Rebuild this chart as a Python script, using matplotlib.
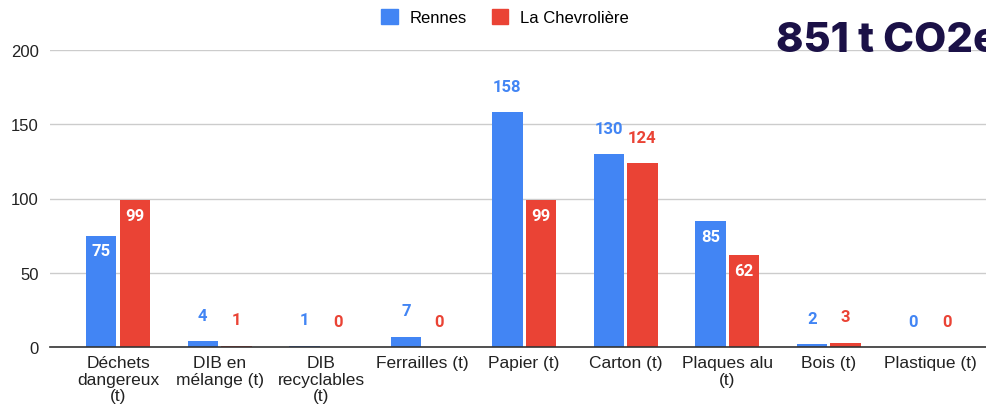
import matplotlib
matplotlib.use("Agg")
import matplotlib.pyplot as plt
import numpy as np
from matplotlib.patches import Patch

categories = ["Déchets\ndangereux\n(t)", "DIB en\nmélange (t)", "DIB\nrecyclables\n(t)",
              "Ferrailles (t)", "Papier (t)", "Carton (t)", "Plaques alu\n(t)", "Bois (t)", "Plastique (t)"]
rennes = [75, 4, 1, 7, 158, 130, 85, 2, 0]
chevroliere = [99, 1, 0, 0, 99, 124, 62, 3, 0]
rennes_inside = [True, False, False, False, False, False, True, False, False]
chev_inside = [True, False, False, False, True, False, True, False, False]
series_names = ["Rennes", "La Chevrolière"]
yticks = [0, 50, 100, 150, 200]
title_text = "851 t CO2e"

BLUE = "#4285F4"
RED = "#EA4335"

W, H = 987, 410
fig = plt.figure(figsize=(W / 100, H / 100), dpi=100)
ax = fig.add_axes([50 / W, (H - 348) / H, (W - 50) / W, 297 / H])

x = np.arange(len(categories))
bw = 0.30
off = 0.165
b1 = ax.bar(x - off, rennes, bw, color=BLUE, zorder=3)
b2 = ax.bar(x + off, chevroliere, bw, color=RED, zorder=3)

ax.set_ylim(0, 200)
ax.set_xlim(-0.67, 8.56)
ax.set_yticks(yticks)
ax.set_yticklabels([str(v) for v in yticks], fontsize=12, color="#222222", family="Liberation Sans")
ax.tick_params(axis="y", length=0, pad=8)
ax.tick_params(axis="x", length=0, pad=6)
ax.set_xticks(x)
ax.set_xticklabels(categories, fontsize=12.5, color="#222222", family="Liberation Sans", linespacing=1.1)
ax.grid(axis="y", color="#cccccc", linewidth=1, zorder=0)
ax.set_axisbelow(True)
for s in ["top", "right", "left"]:
    ax.spines[s].set_visible(False)
ax.spines["bottom"].set_color("#333333")
ax.spines["bottom"].set_linewidth(1.2)
ax.spines["bottom"].set_zorder(4)

def label(bars, vals, inside, color):
    for b, v, ins in zip(bars, vals, inside):
        cx = b.get_x() + b.get_width() / 2
        if ins:
            ax.annotate(str(v), (cx, v), xytext=(0, -11), textcoords="offset points",
                        ha="center", va="center", color="white", fontsize=12,
                        fontweight="bold", family="Roboto", zorder=5)
        else:
            ax.annotate(str(v), (cx, v), xytext=(0, 18.5), textcoords="offset points",
                        ha="center", va="center", color=color, fontsize=12,
                        fontweight="bold", family="Roboto", zorder=5)

label(b1, rennes, rennes_inside, BLUE)
label(b2, chevroliere, chev_inside, RED)

handles = [Patch(color=BLUE), Patch(color=RED)]
fig.legend(handles, series_names, loc="center", bbox_to_anchor=(505 / W, 1 - 18 / H),
           ncol=2, frameon=False, handlelength=1.0, handleheight=1.0,
           handletextpad=0.7, columnspacing=1.5, prop={"family": "Liberation Sans", "size": 12})

fig.text(776 / W, 1 - 52 / H, title_text, fontsize=30, fontweight="heavy", family="Inter",
         color="#1B1147", ha="left", va="baseline")

fig.savefig("out.png", dpi=100, facecolor="white")
